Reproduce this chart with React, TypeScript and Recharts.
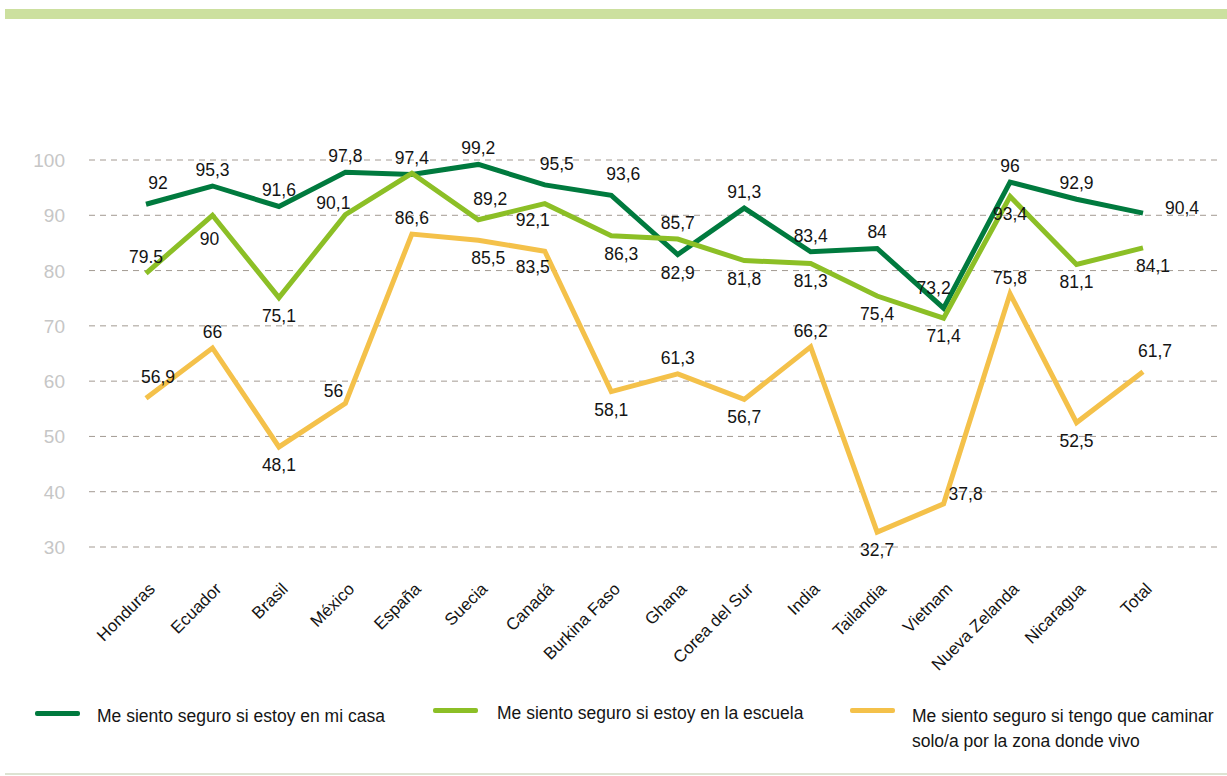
import React from 'react';
import { LineChart, Line, XAxis, YAxis, CartesianGrid, Legend } from 'recharts';

const categories = ['Honduras', 'Ecuador', 'Brasil', 'México', 'España', 'Suecia', 'Canadá', 'Burkina Faso', 'Ghana', 'Corea del Sur', 'India', 'Tailandia', 'Vietnam', 'Nueva Zelanda', 'Nicaragua', 'Total'];
const casa = [92, 95.3, 91.6, 97.8, 97.4, 99.2, 95.5, 93.6, 82.9, 91.3, 83.4, 84, 73.2, 96, 92.9, 90.4];
const escuela = [79.5, 90, 75.1, 90.1, 97.6, 89.2, 92.1, 86.3, 85.7, 81.8, 81.3, 75.4, 71.4, 93.4, 81.1, 84.1];
const caminar = [56.9, 66, 48.1, 56, 86.6, 85.5, 83.5, 58.1, 61.3, 56.7, 66.2, 32.7, 37.8, 75.8, 52.5, 61.7];
const yTicks = [30, 40, 50, 60, 70, 80, 90, 100];

const seriesNames = [
  'Me siento seguro si estoy en mi casa',
  'Me siento seguro si estoy en la escuela',
  'Me siento seguro si tengo que caminar\nsolo/a por la zona donde vivo',
];
const colors = ['#007a3e', '#8cbf26', '#f4c14a'];

// label placement codes (style)
const casaPos = ['TR', 'T', 'T', 'T', 'T', 'T', 'TR', 'TR', 'B', 'T', 'T', 'T', 'TLH', 'T', 'T', 'R'];
const escuelaPos = ['T', 'BD', 'B', 'TL', '', 'TR', 'BL', 'BR', 'T', 'B', 'B', 'B', 'B', 'B', 'B', 'BR'];
const caminarPos = ['TR', 'T', 'B', 'TL', 'T', 'BR', 'BL', 'B', 'T', 'B', 'T', 'B', 'UR', 'T', 'B', 'TR'];
const escuelaLabelOverride: Record<number, string> = { 0: '79.5' };

const data = categories.map((name, i) => ({ name, casa: casa[i], escuela: escuela[i], caminar: caminar[i] }));

const OFFSETS: Record<string, [number, number, string]> = {
  T: [0, -10, 'middle'],
  TR: [12, -15, 'middle'],
  TL: [-12, -6, 'middle'],
  TLH: [-10, -14, 'middle'],
  B: [0, 24, 'middle'],
  BD: [-3, 30, 'middle'],
  BR: [10, 24, 'middle'],
  BL: [-12, 22, 'middle'],
  R: [22, 1, 'start'],
  UR: [5, -4, 'start'],
};

const FONT = '"Liberation Sans", Arial, sans-serif';
const fmt = (v: number) => String(v).replace('.', ',');

const makeLabel = (pos: string[], override: Record<number, string> = {}) => (props: any) => {
  const { x, y, index, value } = props;
  const code = pos[index];
  if (!code) return <g key={`e${index}`} />;
  const [dx, dy, anchor] = OFFSETS[code];
  const txt = override[index] !== undefined ? override[index] : fmt(value);
  return (
    <text key={`l${index}`} x={x + dx} y={y + dy} textAnchor={anchor as any} fontSize={17.5} fill="#141414" fontFamily={FONT}>
      {txt}
    </text>
  );
};

const XTick = (props: any) => {
  const { x, y, payload } = props;
  const ax = x + 10;
  const ay = y + 43;
  return (
    <text x={ax} y={ay} transform={`rotate(-45, ${ax}, ${ay})`} textAnchor="end" fontSize={17} fill="#141414" fontFamily={FONT}>
      {payload.value}
    </text>
  );
};

const YTick = (props: any) => {
  const { x, y, payload } = props;
  return (
    <text x={x} y={y} dy={7} textAnchor="end" fontSize={19} fill="#c6c6c6" fontFamily={FONT}>
      {payload.value}
    </text>
  );
};

const LegendContent = () => {
  const items = [
    { sym: 35, symTop: 15.5, text: 97, textTop: 8.5 },
    { sym: 433, symTop: 12.5, text: 497, textTop: 5.5 },
    { sym: 850, symTop: 12.5, text: 912, textTop: 8.5 },
  ];
  return (
    <div style={{ position: 'relative', width: 1227, height: 60 }}>
      {items.map((it, i) => (
        <React.Fragment key={i}>
          <div style={{ position: 'absolute', left: it.sym, top: it.symTop, width: 45, height: 5, borderRadius: 2, background: colors[i] }} />
          <div style={{ position: 'absolute', left: it.text, top: it.textTop, fontSize: 17.5, lineHeight: '25px', color: '#141414', whiteSpace: 'pre', fontFamily: FONT }}>
            {seriesNames[i]}
          </div>
        </React.Fragment>
      ))}
    </div>
  );
};

export default function App() {
  return (
    <div style={{ position: 'absolute', left: 0, top: 0, width: 1227, height: 776, background: '#ffffff', overflow: 'hidden', fontFamily: FONT }}>
      <div style={{ position: 'absolute', left: 5, top: 9, width: 1222, height: 10, background: '#cce09f' }} />
      <div style={{ position: 'absolute', left: 0, top: 0 }}>
        <LineChart width={1227} height={776} data={data} margin={{ top: 160, right: 10, left: 0, bottom: 169 }}>
          <CartesianGrid vertical={false} strokeDasharray="6 5" stroke="#a39a92" />
          <XAxis dataKey="name" scale="point" padding={{ left: 57, right: 74 }} axisLine={false} tickLine={false} tickSize={0} tickMargin={0} height={60} interval={0} tick={<XTick />} />
          <YAxis domain={[30, 100]} ticks={yTicks} width={89} axisLine={false} tickLine={false} tickSize={0} tickMargin={24} tick={<YTick />} />
          <Legend verticalAlign="middle" align="center" layout="horizontal" wrapperStyle={{ top: 695, left: 0, width: 1227, height: 60 }} content={() => <LegendContent />} />
          <Line type="linear" dataKey="casa" stroke={colors[0]} strokeWidth={5} dot={false} isAnimationActive={false} label={makeLabel(casaPos)} />
          <Line type="linear" dataKey="escuela" stroke={colors[1]} strokeWidth={5} dot={false} isAnimationActive={false} label={makeLabel(escuelaPos, escuelaLabelOverride)} />
          <Line type="linear" dataKey="caminar" stroke={colors[2]} strokeWidth={5} dot={false} isAnimationActive={false} label={makeLabel(caminarPos)} />
        </LineChart>
      </div>
      <div style={{ position: 'absolute', left: 5, top: 773, width: 1222, height: 2, background: '#dde3d2' }} />
    </div>
  );
}
